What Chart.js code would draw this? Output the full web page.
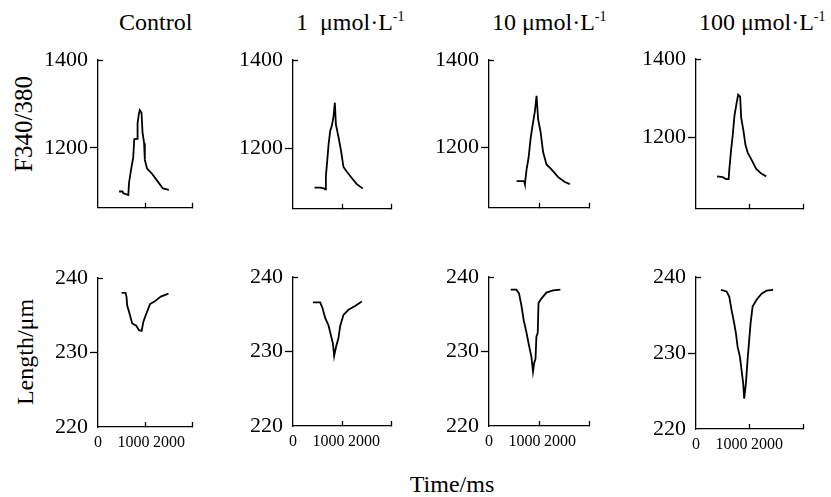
<!DOCTYPE html>
<html><head><meta charset="utf-8">
<script src="https://cdn.jsdelivr.net/npm/chart.js@4.4.0/dist/chart.umd.min.js"></script>
<style>
html,body{margin:0;padding:0;background:#fff;}
#stage{position:relative;width:831px;height:497px;overflow:hidden;background:#fff;font-family:"Liberation Serif","Times New Roman",serif;color:#000;}
#stage canvas{position:absolute;}
.t{position:absolute;white-space:nowrap;line-height:24px;font-size:24px;}
.t sup{font-size:14px;vertical-align:9px;line-height:0;}
.rot{transform:translate(-50%,-50%) rotate(-90deg);}
</style></head><body>
<div id="stage"></div>
<script>
// ---- text ----
const columnTitles = ["Control", "1\u2002\u03bcmol\u00b7L", "10 \u03bcmol\u00b7L", "100 \u03bcmol\u00b7L"];
const columnTitleSup = ["", "-1", "-1", "-1"];
const rowTitles = ["F340/380", "Length/\u03bcm"];
const xTitle = "Time/ms";

// ---- ticks / ranges ----
const timeTicks = [0, 1000, 2000];
const fTicks = [1200, 1400];
const lenTicks = [220, 230, 240];
const fMax = 1400;
const fMin = [1064, 1062, 1062, 1017];
const lenMin = 220, lenMax = 240;

// ---- data: F340/380 (top row) ----
const fCtrlT = [448,520,540,645,655,660,703,750,771,834,842,870,890,926,947,981,996,1044,1137,1242,1381,1507];
const fCtrl  = [1101,1101,1097,1093,1093,1121,1150,1179,1220,1221,1256,1278,1286,1280,1236,1211,1173,1153,1143,1128,1108,1105];
const f1T = [440,560,640,657,671,692,725,759,794,826,854,875,928,977,1030,1099,1200,1302,1424];
const f1  = [1110,1110,1108,1106,1136,1163,1207,1239,1251,1271,1303,1254,1225,1196,1157,1146,1132,1118,1108];
const f10T = [552,700,718,752,792,832,872,917,951,983,1031,1083,1150,1250,1383,1517,1617];
const f10  = [1123,1123,1116,1150,1177,1220,1251,1282,1318,1264,1236,1189,1161,1150,1132,1121,1116];
const f100T = [394,500,563,610,625,657,687,718,750,788,825,844,887,925,968,1032,1126,1220,1313];
const f100  = [1100,1098,1093,1093,1121,1169,1206,1254,1280,1309,1304,1250,1216,1180,1160,1144,1119,1107,1100];

// ---- data: Length (bottom row) ----
const lCtrlT = [501,587,608,621,672,728,814,872,929,964,1015,1107,1193,1336,1499];
const lCtrl  = [238.0,238.0,237.4,236.3,235.2,233.9,233.6,233.0,232.9,234.1,235.0,236.5,236.8,237.5,237.9];
const l1T = [407,555,603,657,725,773,814,840,881,928,962,1030,1132,1268,1404];
const l1  = [236.6,236.6,235.8,234.5,233.5,232.2,231.1,229.4,230.7,231.8,233.4,234.9,235.6,236.1,236.7];
const l10T = [434,548,600,648,694,748,800,848,880,905,930,948,975,990,1048,1148,1280,1428];
const l10  = [238.3,238.3,237.8,236.2,234.2,232.6,230.8,229.3,227.3,228.5,229.0,232.0,232.5,236.5,237.1,237.9,238.2,238.3];
const l100T = [466,572,622,666,709,746,778,821,852,882,901,933,964,994,1020,1058,1132,1226,1319,1442];
const l100  = [238.3,238.1,237.4,235.6,234.1,232.6,230.8,229.5,227.7,226.0,224.0,226.0,229.1,231.7,233.9,236.1,237.0,237.8,238.2,238.3];

// ---- layout (pixels) ----
const colL = [98, 293, 489, 696];
const colR = [192, 391, 589, 803];
const rowTop = [[60, 60, 60, 59], [278, 277, 277, 277]];
const rowBot = [[217, 218, 217, 218], [427, 426, 426, 429]];
const titleLeft = [119, 296, 492, 699];
const labelPxPer1000 = 35.5;

const stage = document.getElementById('stage');
const FONT = '"Liberation Serif","Times New Roman",serif';

function addText(html, style, cls) {
  const d = document.createElement('div');
  d.className = 't' + (cls ? ' ' + cls : '');
  d.innerHTML = html;
  Object.assign(d.style, style);
  stage.appendChild(d);
}

columnTitles.forEach((t, i) => {
  addText(t + (columnTitleSup[i] ? '<sup>' + columnTitleSup[i] + '</sup>' : ''),
    {left: titleLeft[i] + 'px', top: '10px'});
});
addText(rowTitles[0], {left: '24px', top: '124px', fontSize: '25px'}, 'rot');
addText(rowTitles[1], {left: '25px', top: '352px', fontSize: '24px'}, 'rot');
addText(xTitle, {left: '452px', top: '484px', fontSize: '24px', transform: 'translate(-50%,-50%)'});

function makeChart(c, r, times, vals) {
  const xL = colL[c], xR = colR[c];
  const yT = rowTop[r][c], yB = rowBot[r][c];
  const AXW = 70, PT = 20, PR = 12;
  const PB = r === 0 ? 6 : 0;
  const XH = r === 0 ? 0 : 34;
  const w = xR - xL + AXW + PR, h = yB - yT + PT + PB + XH;
  const cv = document.createElement('canvas');
  cv.width = w; cv.height = h;
  cv.style.left = (xL - AXW) + 'px'; cv.style.top = (yT - PT) + 'px';
  cv.style.width = w + 'px'; cv.style.height = h + 'px';
  stage.appendChild(cv);
  const yMin = r === 0 ? fMin[c] : lenMin;
  const yMax = r === 0 ? fMax : lenMax;
  const yTicks = r === 0 ? fTicks : lenTicks;
  const midTick = r === 0 ? fTicks[0] : lenTicks[1];
  const scales = {
    x: {
      type: 'linear', position: 'bottom', min: timeTicks[0], max: timeTicks[2], weight: 0,
      afterBuildTicks: s => { s.ticks = timeTicks.slice(1).map(v => ({value: v})); },
      afterFit: s => { s.height = 0; },
      grid: {drawOnChartArea: false, drawTicks: true, tickLength: -5, tickColor: '#000', tickWidth: 1.3},
      border: {display: true, color: '#000', width: 1.3},
      ticks: {display: false}
    },
    y: {
      type: 'linear', position: 'left', min: yMin, max: yMax, weight: 1,
      afterBuildTicks: s => { s.ticks = yTicks.map(v => ({value: v})); },
      afterFit: s => { s.width = AXW; },
      grid: {drawOnChartArea: false, tickLength: 8, tickWidth: 1.3,
             tickColor: ctx => (ctx.tick && ctx.tick.value === midTick) ? '#000' : 'rgba(0,0,0,0)'},
      border: {display: true, color: '#000', width: 1.3},
      ticks: {color: '#000', padding: 2, font: {family: FONT, size: 22}, callback: v => String(v)}
    },
    ys: {
      type: 'linear', position: 'left', min: yMin, max: yMax, weight: 0,
      afterBuildTicks: s => { s.ticks = [{value: yMax}]; },
      afterFit: s => { s.width = 0; },
      grid: {drawOnChartArea: false, tickLength: -5, tickWidth: 1.3, tickColor: '#000'},
      border: {display: false},
      ticks: {display: false}
    }
  };
  if (r === 1) {
    scales.xl = {
      type: 'linear', position: 'bottom', min: 0, max: (xR - xL) / labelPxPer1000 * 1000, weight: 1,
      afterBuildTicks: s => { s.ticks = timeTicks.map(v => ({value: v})); },
      afterFit: s => { s.height = XH; },
      grid: {display: false, drawTicks: false},
      border: {display: false},
      ticks: {color: '#000', padding: 6, autoSkip: false, maxRotation: 0, minRotation: 0,
              font: {family: FONT, size: 16}, callback: v => String(v)}
    };
  }
  new Chart(cv, {
    type: 'line',
    data: {datasets: [{
      data: times.map((t, i) => ({x: t, y: vals[i]})),
      borderColor: '#000', borderWidth: 1.8, pointRadius: 0, tension: 0, fill: false
    }]},
    options: {
      responsive: false, animation: false,
      layout: {padding: {left: 0, top: PT, right: PR, bottom: PB}},
      plugins: {legend: {display: false}, tooltip: {enabled: false}, title: {display: false}},
      scales: scales
    }
  });
}

const topData = [[fCtrlT, fCtrl], [f1T, f1], [f10T, f10], [f100T, f100]];
const botData = [[lCtrlT, lCtrl], [l1T, l1], [l10T, l10], [l100T, l100]];
topData.forEach((d, c) => makeChart(c, 0, d[0], d[1]));
botData.forEach((d, c) => makeChart(c, 1, d[0], d[1]));
</script>
</body></html>
